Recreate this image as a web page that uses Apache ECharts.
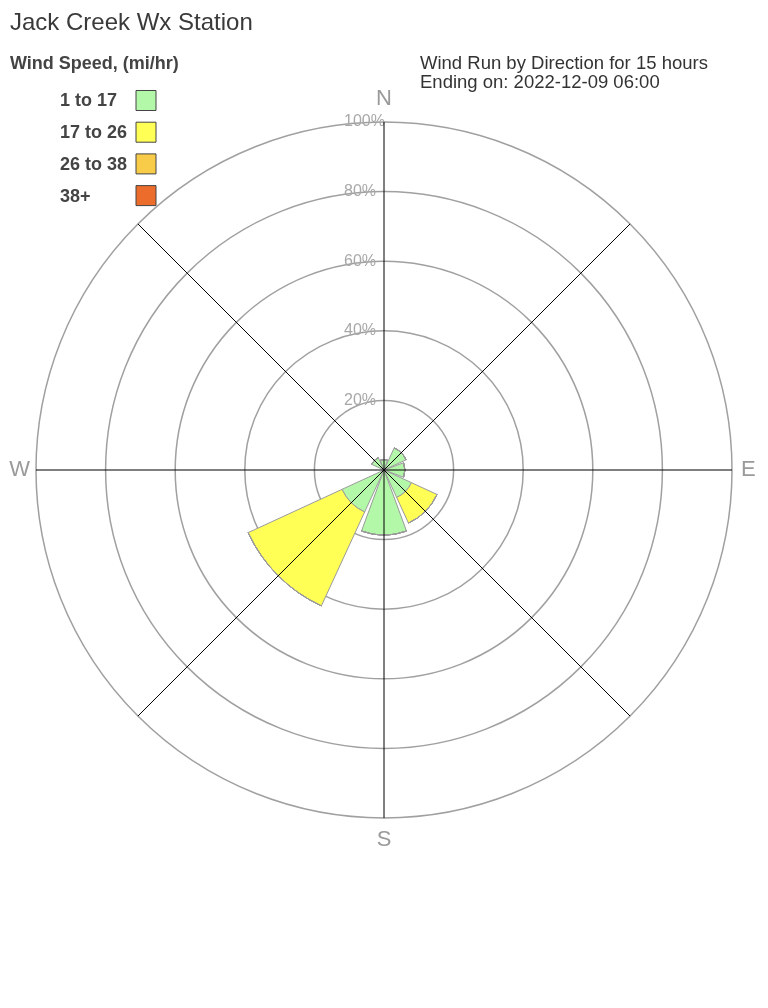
<!DOCTYPE html>
<html>
<head>
<meta charset="utf-8">
<script src="https://cdn.jsdelivr.net/npm/echarts@6/dist/echarts.min.js"></script>
<style>
html,body{margin:0;padding:0;background:#fff;}
#chart{width:768px;height:1008px;}
</style>
</head>
<body>
<div id="chart"></div>
<script>
// Directions (8-point compass), clockwise from North
var directions = ['N', 'NE', 'E', 'SE', 'S', 'SW', 'W', 'NW'];
// Percent of wind run per direction, by speed band
var speed1to17  = [3.0, 7.0, 6.0, 8.7, 18.7, 13.3, 0, 3.9];
var speed17to26 = [0, 0, 0, 8.1, 0, 29.7, 0, 0];
var speed26to38 = [0, 0, 0, 0, 0, 0, 0, 0];
var speed38plus = [0, 0, 0, 0, 0, 0, 0, 0];
var bandNames = ['1 to 17', '17 to 26', '26 to 38', '38+'];
var bandColors = ['#b2f8a8', '#ffff55', '#f8cc48', '#ec6c2c'];
var compassLabels = {0: 'N', 90: 'E', 180: 'S', 270: 'W'};

var FONT = "'Liberation Sans', Arial, sans-serif";
var chart = echarts.init(document.getElementById('chart'), null, {renderer: 'canvas'});

var bandData = [speed1to17, speed17to26, speed26to38, speed38plus];
var series = bandNames.map(function (name, i) {
  return {
    name: name,
    type: 'bar',
    coordinateSystem: 'polar',
    polarIndex: 0,
    stack: 'wind',
    barCategoryGap: '10%',
    data: bandData[i],
    z: 2,
    itemStyle: {color: bandColors[i], borderColor: '#9a9a9a', borderWidth: 1},
    emphasis: {disabled: true},
    silent: true
  };
});

var compassStyle = {fontFamily: FONT, fontSize: 22, color: '#9a9a9a'};
var option = {
  animation: false,
  textStyle: {fontFamily: FONT},
  title: [
    {text: 'Jack Creek Wx Station', left: 10, top: 11, padding: 0,
     textStyle: {fontFamily: FONT, fontSize: 24, fontWeight: 'normal', color: '#3a3a3a'}},
    {text: 'Wind Speed, (mi/hr)', left: 10, top: 55, padding: 0,
     textStyle: {fontFamily: FONT, fontSize: 18, fontWeight: 'bold', color: '#444'}},
    {text: 'Wind Run by Direction for 15 hours\nEnding on: 2022-12-09 06:00', left: 420, top: 54, padding: 0,
     textStyle: {fontFamily: FONT, fontSize: 18.5, fontWeight: 'normal', color: '#333', lineHeight: 19}}
  ],
  legend: {
    data: bandNames,
    orient: 'vertical',
    left: 60,
    top: 90,
    padding: 0,
    align: 'right',
    icon: 'rect',
    itemWidth: 20,
    itemHeight: 20,
    itemGap: 10.7,
    selectedMode: false,
    itemStyle: {borderColor: '#444', borderWidth: 1},
    formatter: function (name) { return '{t|' + name + '}'; },
    textStyle: {
      fontFamily: FONT, fontSize: 18, fontWeight: 'bold', color: '#444',
      rich: {t: {fontFamily: FONT, fontSize: 18, fontWeight: 'bold', color: '#444', width: 71, align: 'left', padding: [2, 0, 0, 0]}}
    }
  },
  polar: [
    {center: [384, 470], radius: 348},
    {center: [384, 470], radius: 348}
  ],
  angleAxis: [
    {
      polarIndex: 0,
      type: 'category',
      data: directions,
      startAngle: 112.5,
      clockwise: true,
      axisLine: {show: false},
      axisTick: {show: false},
      axisLabel: {show: false},
      splitLine: {show: false}
    },
    {
      polarIndex: 1,
      type: 'value',
      min: 0,
      max: 360,
      interval: 45,
      startAngle: 90,
      clockwise: true,
      z: 5,
      axisLine: {show: false},
      axisTick: {show: false},
      splitLine: {show: true, lineStyle: {color: '#000', width: 1}},
      axisLabel: {
        margin: 6,
        fontFamily: FONT,
        fontSize: 22,
        color: '#9a9a9a',
        formatter: function (v) {
          var t = compassLabels[v];
          if (!t) return '';
          return '{' + t.toLowerCase() + '|' + t + '}';
        },
        rich: {
          n: Object.assign({padding: [0, 0, 6, 0]}, compassStyle),
          e: Object.assign({padding: [0, 0, 0, 3]}, compassStyle),
          s: Object.assign({padding: [5, 0, 0, 0]}, compassStyle),
          w: Object.assign({padding: [0, 0, 0, 0]}, compassStyle)
        }
      }
    }
  ],
  radiusAxis: [
    {polarIndex: 0, min: 0, max: 100, show: false},
    {
      polarIndex: 1,
      min: 0,
      max: 100,
      interval: 20,
      z: 0,
      axisLine: {show: false},
      axisTick: {show: false},
      splitLine: {show: true, lineStyle: {color: '#a0a0a0', width: 1.5}},
      axisLabel: {
        margin: 40,
        align: 'left',
        fontFamily: FONT,
        fontSize: 16,
        color: '#a8a8a8',
        formatter: function (v) { return v === 0 ? '' : v + '%'; }
      }
    }
  ],
  series: series
};
chart.setOption(option);
</script>
</body>
</html>
